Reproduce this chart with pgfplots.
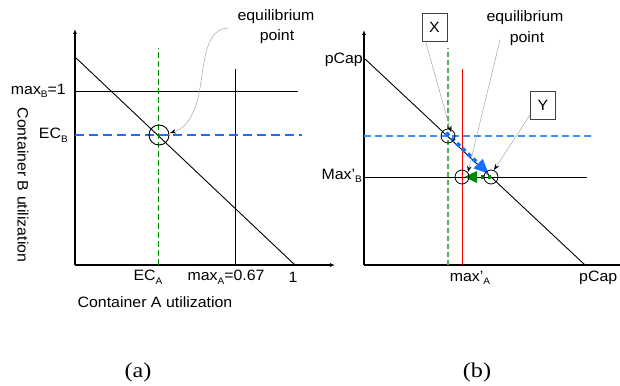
\documentclass[border=0pt]{standalone}
\usepackage{fontspec}
\setmainfont[FakeStretch=1.06]{Liberation Sans}
\newfontfamily\capfont[FakeStretch=1.15]{Liberation Serif}
\usepackage{pgfplots}
\pgfplotsset{compat=1.18}
\usetikzlibrary{arrows.meta}

\definecolor{ecgreen}{RGB}{0,145,0}
\definecolor{ecblue}{RGB}{35,110,240}
\definecolor{lgreen}{RGB}{80,175,80}
\definecolor{lblue}{RGB}{55,145,255}
\definecolor{arrblue}{RGB}{20,110,255}
\definecolor{arrgreen}{RGB}{0,135,0}
\definecolor{capred}{RGB}{245,0,0}

\newcommand\sub[1]{\raisebox{-0.45ex}{\fontsize{9.5}{9.5}\selectfont #1}}

\pgfplotsset{
  panel/.style={
    x=1pt, y=1pt, anchor=origin,
    axis lines=left, ticks=none, clip=false,
    axis line style={line width=1.3pt, black},
    x axis line style={-{Latex[length=5pt,width=4pt]}},
    y axis line style={-{Latex[length=5pt,width=4pt]}},
  },
  thinline/.style={black, line width=0.9pt},
  pointer/.style={gray!70, line width=0.5pt, -{Stealth[color=black,length=6pt,width=4.5pt]}},
}

\begin{document}
\begin{tikzpicture}[every node/.append style={font=\fontsize{15}{17}\selectfont}]
\useasboundingbox (0,0) rectangle (620pt,385pt);

% ---------------- panel (a) ----------------
\begin{axis}[panel, at={(75pt,120pt)}, xmin=0, xmax=260, ymin=0, ymax=236]
  % capacity line
  \addplot[thinline] coordinates {(0,208) (220,0)};
  % max_B = 1
  \addplot[thinline] coordinates {(0,174) (223,174)};
  % max_A = 0.67
  \addplot[thinline] coordinates {(160,0) (160,196)};
  % equilibrium coordinates
  \addplot[ecgreen, line width=1pt, dash pattern=on 6pt off 3pt] coordinates {(83,0) (83,217)};
  \addplot[ecblue, line width=1.1pt, dash pattern=on 9pt off 5pt] coordinates {(0,130) (227,130)};
  % equilibrium point
  \addplot[only marks, mark=o, mark size=10pt, mark options={black, line width=0.9pt}] coordinates {(84,130)};

  \draw[gray!70, line width=0.5pt, -{Stealth[color=black,length=6pt,width=4.5pt]}]
    (153,237) .. controls (125,236) and (130,185) .. (121,160)
    .. controls (115,143) and (108,136) .. (95,132);
  \node[inner sep=0pt] at (201,248) {equilibrium};
  \node[inner sep=0pt] at (202,228) {point};

  \node[anchor=east, inner sep=0pt] at (-9,174) {max\sub{B}=1};
  \node[anchor=east, inner sep=0pt] at (-7,130) {EC\sub{B}};
  \node[inner sep=0pt] at (73,-12) {EC\sub{A}};
  \node[inner sep=0pt] at (151,-12) {max\sub{A}=0.67};
  \node[inner sep=0pt] at (218,-12) {1};
  \node[inner sep=0pt] at (80,-37) {Container A utilization};
  \node[inner sep=0pt, rotate=-90] at (-52,80) {Container B utilization};
  \node[inner sep=0pt, font=\capfont\fontsize{21}{24}\selectfont] at (63,-107) {(a)};
\end{axis}

% ---------------- panel (b) ----------------
\begin{axis}[panel, at={(364pt,120pt)}, xmin=0, xmax=256, ymin=0, ymax=235,
  x axis line style={-}]
  % capacity line
  \addplot[thinline] coordinates {(0,207) (221,0)};
  % Max'_B
  \addplot[thinline] coordinates {(0,88) (223,88)};
  % previous equilibrium
  \addplot[lgreen, line width=1.1pt, dash pattern=on 5pt off 3pt] coordinates {(84,0) (84,217)};
  \addplot[lblue, line width=1.1pt, dash pattern=on 7pt off 4pt] coordinates {(0,129) (229,129)};
  % max'_A
  \addplot[capred, line width=1pt] coordinates {(98,0) (98,196)};
  % moves
  \addplot[arrblue, line width=4pt, dash pattern=on 4pt off 3.5pt,
    -{Triangle[length=15pt,width=12pt]}] coordinates {(82,132) (125,91)};
  \addplot[arrgreen, line width=3.5pt, dash pattern=on 3.5pt off 3.5pt,
    -{Triangle[length=13pt,width=11pt]}] coordinates {(127,88) (100,88)};
  % points
  \addplot[only marks, mark=o, mark size=7pt, mark options={black, line width=0.8pt}]
    coordinates {(84,129) (98,88) (127,88)};

  % callouts
  \addplot[pointer] coordinates {(62,222) (87,133)};
  \addplot[pointer] coordinates {(136,225) (104,93)};
  \addplot[pointer] coordinates {(166,150) (130,95)};
  \node[draw=black!75, line width=0.8pt, minimum width=25pt, minimum height=28pt, inner sep=0pt]
    at (70.5,238) {X};
  \node[draw=black!75, line width=0.8pt, minimum width=25pt, minimum height=28pt, inner sep=0pt]
    at (179,159.5) {Y};
  \node[inner sep=0pt] at (161,247) {equilibrium};
  \node[inner sep=0pt] at (163,226) {point};

  \node[anchor=east, inner sep=0pt] at (-1,205) {pCap};
  \node[anchor=east, inner sep=0pt] at (-2,89) {Max’\sub{B}};
  \node[inner sep=0pt] at (106,-13) {max’\sub{A}};
  \node[anchor=west, inner sep=0pt] at (215,-13) {pCap};
  \node[inner sep=0pt, font=\capfont\fontsize{21}{24}\selectfont] at (113,-107) {(b)};
\end{axis}
\end{tikzpicture}
\end{document}
